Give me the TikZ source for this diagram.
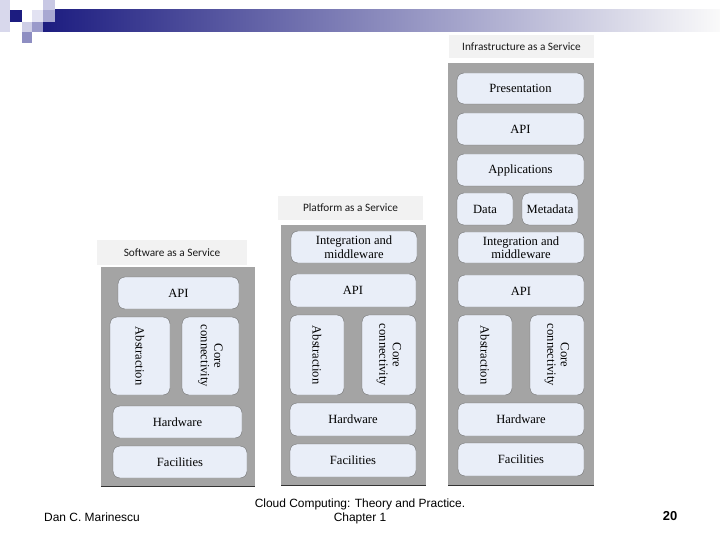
\documentclass[tikz,border=0pt]{standalone}
\usepackage{fontspec}
\setmainfont{Liberation Serif}
\newfontfamily\titlefont{Carlito}
\newfontfamily\footfont{Liberation Sans}
\definecolor{panelgray}{HTML}{A4A4A4}
\definecolor{boxfill}{HTML}{E9EEF8}
\definecolor{boxline}{HTML}{6E6E6E}
\definecolor{titlefill}{HTML}{F2F2F2}
\definecolor{navy}{HTML}{1C1C80}
\definecolor{bandmid}{HTML}{9C9CB2}
\definecolor{bandend}{HTML}{FAFAFA}
\definecolor{sqA}{HTML}{D8D8EC}
\definecolor{sqB}{HTML}{E2E2F2}
\definecolor{sqC}{HTML}{C8C8E4}
\definecolor{sqD}{HTML}{A8A8D2}
\definecolor{sqE}{HTML}{9A9ACA}
\definecolor{sqF}{HTML}{CECEE6}
\definecolor{sqG}{HTML}{8E8EC2}
\tikzset{
  blk/.style={rounded corners=7bp, fill=boxfill, draw=boxline, line width=0.4pt,
    inner sep=0pt, align=center, font=\fontsize{12.6}{13.5}\selectfont, text=black},
  vblk/.style={blk, rotate=-90},
  titlebox/.style={fill=titlefill, inner sep=0pt, font=\titlefont\fontsize{11.3}{12}\selectfont, text=black!90},
  panel/.style={fill=panelgray, draw=none},
  foot/.style={font=\footfont\fontsize{12}{14}\selectfont, align=center, inner sep=0pt}
}
\begin{document}
\begin{tikzpicture}[x=1bp, y=-1bp]
\useasboundingbox (0,0) rectangle (720,540);
\fill[white] (0,0) rectangle (720,540);
% header decoration
\shade[left color=navy, middle color=bandmid, right color=bandend] (43,10) rectangle (720,32);
\fill[sqA] (0,0) rectangle (10,32);
\fill[navy] (10,10) rectangle (22,22);
\fill[sqB] (32,10) rectangle (43,22);
\fill[sqC] (43,0) rectangle (55,10);
\fill[sqD] (43,10) rectangle (55,22);
\fill[sqE] (32,22) rectangle (43,32);
\fill[sqF] (22,22) rectangle (32,32);
\fill[sqG] (22,32) rectangle (32,43);
% panels
\fill[panel] (101,267) rectangle (255,486);
\fill[panel] (281,225) rectangle (426,485);
\fill[panel] (448,63) rectangle (594,485);
\draw[black!80, line width=0.8pt] (101,486) -- (255,486);
\draw[black!80, line width=0.8pt] (281,485) -- (426,485);
\draw[black!80, line width=0.8pt] (448,485) -- (594,485);
% title boxes
\node[titlebox, minimum width=150bp, minimum height=25bp] (tsaas) at (172,252.5) {Software as a Service};
\node[titlebox, minimum width=145bp, minimum height=24bp] (tpaas) at (350.5,208) {Platform as a Service};
\node[titlebox, minimum width=145bp, minimum height=23bp] (tiaas) at (521.5,46.5) {Infrastructure as a Service};
% SaaS
\node[blk, minimum width=121bp, minimum height=32bp] (sapi) at (178.5,293) {API};
\node[vblk, minimum width=78bp, minimum height=60bp] (sabs) at (140,356) {Abstraction};
\node[vblk, minimum width=78bp, minimum height=57bp] (score) at (210.5,356) {Core\\connectivity};
\node[blk, minimum width=129bp, minimum height=32bp] (shw) at (177.5,422) {Hardware};
\node[blk, minimum width=134bp, minimum height=32bp] (sfac) at (180,462) {Facilities};
% PaaS
\node[blk, minimum width=126bp, minimum height=32bp] (pint) at (354,247) {Integration and\\middleware};
\node[blk, minimum width=126bp, minimum height=33bp] (papi) at (353,290.5) {API};
\node[vblk, minimum width=80bp, minimum height=54bp] (pabs) at (317,355) {Abstraction};
\node[vblk, minimum width=80bp, minimum height=54bp] (pcore) at (389,355) {Core\\connectivity};
\node[blk, minimum width=126bp, minimum height=33bp] (phw) at (353,419.5) {Hardware};
\node[blk, minimum width=126bp, minimum height=33bp] (pfac) at (353,460.5) {Facilities};
% IaaS
\node[blk, minimum width=127bp, minimum height=31bp] (ipres) at (520.5,88.5) {Presentation};
\node[blk, minimum width=127bp, minimum height=32bp] (iapi1) at (520.5,129) {API};
\node[blk, minimum width=127bp, minimum height=32bp] (iapp) at (520.5,170) {Applications};
\node[blk, minimum width=56bp, minimum height=32bp, text height=8.5bp, text depth=0pt] (idata) at (485,209) {Data};
\node[blk, minimum width=56bp, minimum height=32bp, text height=8.5bp, text depth=0pt] (imeta) at (550,209) {Metadata};
\node[blk, minimum width=126bp, minimum height=31bp] (iint) at (521,247.5) {Integration and\\middleware};
\node[blk, minimum width=126bp, minimum height=32bp] (iapi2) at (521,291) {API};
\node[vblk, minimum width=80bp, minimum height=54bp] (iabs) at (485,355) {Abstraction};
\node[vblk, minimum width=80bp, minimum height=54bp] (icore) at (557,355) {Core\\connectivity};
\node[blk, minimum width=126bp, minimum height=33bp] (ihw) at (521,419.5) {Hardware};
\node[blk, minimum width=126bp, minimum height=33bp] (ifac) at (521,459.5) {Facilities};
% footer
\node[foot] (author) at (92,517) {Dan C. Marinescu};
\node[foot] (book) at (360,511) {Cloud Computing: Theory and Practice.\\Chapter 1};
\node[foot, font=\footfont\bfseries\fontsize{13}{15}\selectfont] (page) at (670,516) {20};
\end{tikzpicture}
\end{document}
